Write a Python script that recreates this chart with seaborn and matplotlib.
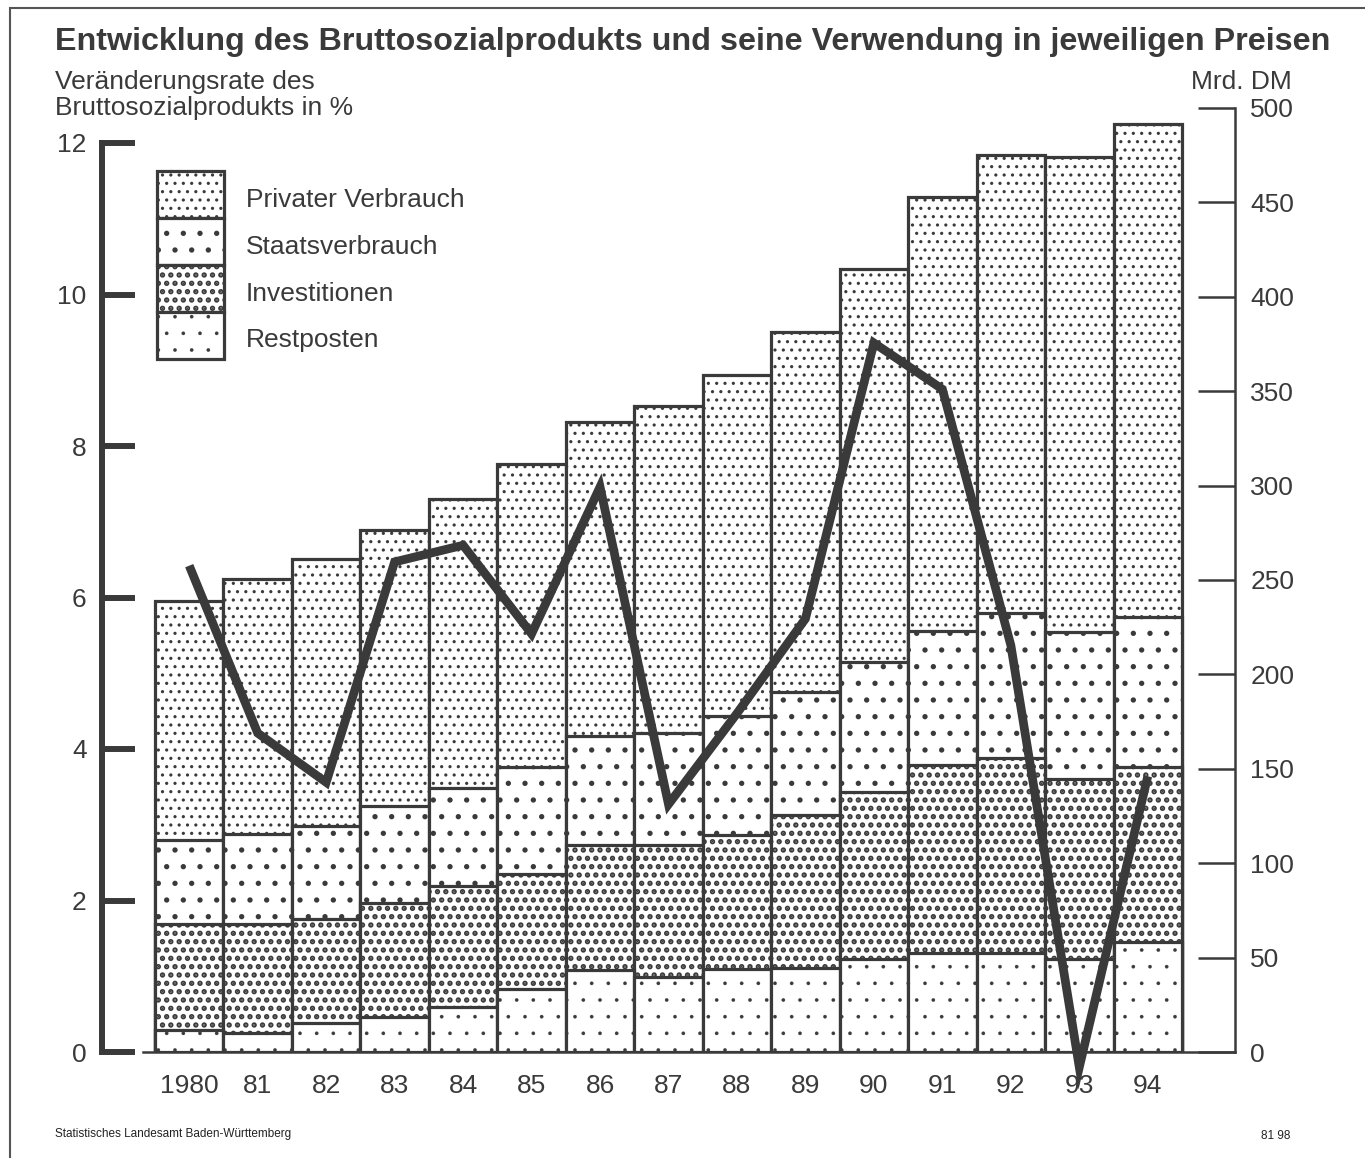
import numpy as np
import pandas as pd
import matplotlib
matplotlib.use("Agg")
import matplotlib.pyplot as plt
from matplotlib.patches import Patch, Rectangle
import seaborn as sns

# ---------------- data ----------------
years = ["1980", "81", "82", "83", "84", "85", "86", "87", "88", "89",
         "90", "91", "92", "93", "94"]
restposten = [11.7, 10.0, 15.4, 18.5, 23.8, 33.4, 43.4, 39.7, 44.0, 44.5,
              49.3, 52.4, 52.4, 49.3, 58.3]
investitionen = [56.1, 57.8, 55.0, 60.4, 64.1, 60.9, 66.2, 69.9, 70.9, 81.0,
                 88.4, 99.6, 103.3, 95.3, 92.7]
staatsverbrauch = [44.5, 47.7, 49.3, 51.4, 51.9, 56.7, 57.8, 59.4, 63.1, 65.2,
                   68.9, 71.0, 76.8, 77.9, 79.4]
privater_verbrauch = [126.7, 135.0, 141.3, 146.2, 153.2, 160.4, 166.3, 173.0,
                      180.6, 190.7, 208.1, 229.9, 242.5, 251.5, 261.1]
bsp_rate = [6.42, 4.21, 3.56, 6.47, 6.69, 5.52, 7.46, 3.27, 4.47, 5.72,
            9.36, 8.75, 5.37, -0.2, 3.64]
left_ticks = [0, 2, 4, 6, 8, 10, 12]
right_ticks = [0, 50, 100, 150, 200, 250, 300, 350, 400, 450, 500]
legend_labels = ["Privater Verbrauch", "Staatsverbrauch", "Investitionen", "Restposten"]

# ---------------- style ----------------
sns.set_theme(style="white")
plt.rcParams['font.family'] = ['Liberation Sans', 'DejaVu Sans']
plt.rcParams['hatch.linewidth'] = 1.0
INK = '#3a3a3a'

W, H = 1365, 1158
fig = plt.figure(figsize=(W / 100, H / 100), dpi=100)
fig.patch.set_facecolor('white')
ax = fig.add_axes([102 / W, 1 - 1052 / H, (1235 - 102) / W, (1052 - 108) / H])

df = pd.DataFrame({"Jahr": years})
df["c1"] = np.array(restposten)
df["c2"] = df["c1"] + np.array(investitionen)
df["c3"] = df["c2"] + np.array(staatsverbrauch)
df["c4"] = df["c3"] + np.array(privater_verbrauch)

# hatch pattern, hatch linewidth per component
layers = [("c4", "..", 1.1), ("c3", ".", 1.4), ("c2", "..", 2.6), ("c1", ".", 0.2)]


def set_hlw(p, lw):
    if hasattr(p, "set_hatch_linewidth"):
        p.set_hatch_linewidth(lw)


for col, hatch, hlw in layers:
    n_before = len(ax.patches)
    sns.barplot(data=df, x="Jahr", y=col, ax=ax, color="white", saturation=1,
                edgecolor=INK, linewidth=2.3, hatch=hatch, width=1.0,
                errorbar=None)
    for p in ax.patches[n_before:]:
        set_hlw(p, hlw)

ax.set_ylim(0, 500)
x0 = -0.5 - 53 / 68.47
x1 = 14.5 + 53 / 68.47
ax.set_xlim(x0, x1)
ax.set_xlabel("")
ax.set_ylabel("")

# ---------------- line on left axis ----------------
ax2 = ax.twinx()
sns.lineplot(x=np.arange(len(years)), y=bsp_rate, ax=ax2, color=INK,
             linewidth=6.3, solid_joinstyle='miter', solid_capstyle='butt')
for ln in ax2.lines:
    ln.set_clip_on(False)
ax2.set_ylim(0, 12 * 944 / 909)
ax2.set_xlim(x0, x1)
ax2.set_ylabel("")

# right axis (bars)
ax.yaxis.tick_right()
ax.set_yticks(right_ticks)
ax.tick_params(axis='y', direction='in', length=27, width=1.8, color=INK,
               labelcolor=INK, labelsize=19, pad=11, right=True, left=False,
               labelright=True, labelleft=False)
ax.tick_params(axis='x', length=0, pad=16, labelsize=19, labelcolor=INK)
for s in ["top", "left"]:
    ax.spines[s].set_visible(False)
for s in ["right", "bottom"]:
    ax.spines[s].set_visible(True)
    ax.spines[s].set_color(INK)
    ax.spines[s].set_linewidth(1.8)
ax.spines["bottom"].set_bounds(-0.5 - 12 / 68.47, x1)

# left axis (line)
ax2.yaxis.tick_left()
ax2.set_yticks(left_ticks)
ax2.tick_params(axis='y', direction='in', length=24, width=4.3, color=INK,
                labelcolor=INK, labelsize=19, pad=11, left=True, right=False,
                labelleft=True, labelright=False)
for s in ["top", "right", "bottom"]:
    ax2.spines[s].set_visible(False)
ax2.spines["left"].set_visible(True)
ax2.spines["left"].set_color(INK)
ax2.spines["left"].set_linewidth(4.3)
ax2.spines["left"].set_bounds(0, 12)

# ---------------- legend ----------------
handles = []
for (col, hatch, hlw), lab in zip(layers, legend_labels):
    h = Patch(facecolor="white", edgecolor=INK, hatch=hatch, linewidth=2.3, label=lab)
    set_hlw(h, hlw)
    handles.append(h)
fs_px = 19 * 100 / 72
leg = ax.legend(handles=handles, loc='upper left',
                bbox_to_anchor=(157 / W, 1 - 171 / H), bbox_transform=fig.transFigure,
                frameon=False, borderpad=0, borderaxespad=0,
                handlelength=67 / fs_px, handleheight=2.36,
                labelspacing=0, handletextpad=22 / fs_px, fontsize=19,
                labelcolor=INK)
for i, h in enumerate(leg.legend_handles):
    set_hlw(h, layers[i][2])
for t in leg.get_texts():
    t.set_y(-4)

# ---------------- texts ----------------
fig.text(55 / W, 1 - 50 / H,
         "Entwicklung des Bruttosozialprodukts und seine Verwendung in jeweiligen Preisen",
         fontsize=23.2, fontweight='bold', color=INK, ha='left', va='baseline')
fig.text(55 / W, 1 - 70 / H, "Veränderungsrate des\nBruttosozialprodukts in %",
         fontsize=19, color=INK, ha='left', va='top', linespacing=1.12)
fig.text(1292 / W, 1 - 89 / H, "Mrd. DM", fontsize=19, color=INK,
         ha='right', va='baseline')
fig.text(55 / W, 1 - 1134 / H, "Statistisches Landesamt Baden-Württemberg",
         fontsize=8.5, color='#222222', ha='left', va='center')
fig.text(1290 / W, 1 - 1136 / H, "81 98", fontsize=8.5, color='#222222',
         ha='right', va='center')

frame = Rectangle((10 / W, -0.1), 1.2, (1 - 8 / H) + 0.1, transform=fig.transFigure,
                  fill=False, edgecolor='#555555', linewidth=1.5, clip_on=False)
fig.add_artist(frame)

fig.savefig("out.png", dpi=100)
